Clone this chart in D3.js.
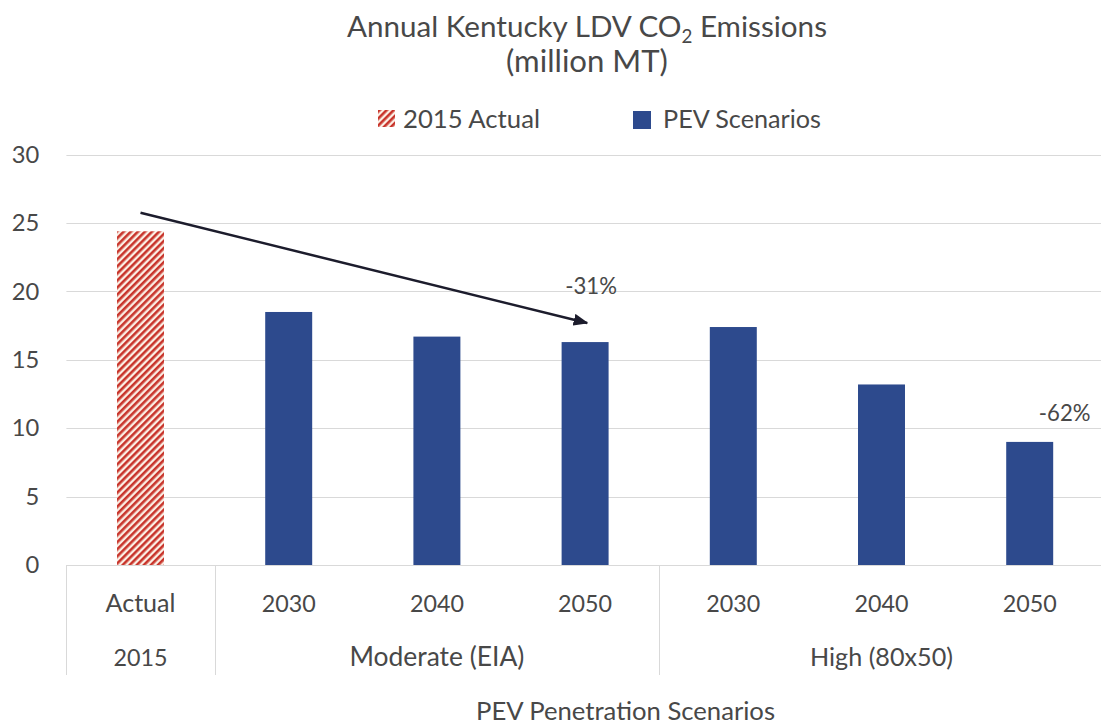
<!DOCTYPE html>
<html>
<head>
<meta charset="utf-8">
<script src="https://cdn.jsdelivr.net/npm/d3@7/dist/d3.min.js"></script>
<style>
  html, body { margin: 0; padding: 0; background: #ffffff; }
  svg { display: block; }
  text { font-family: Lato, "Open Sans", sans-serif; fill: #484848; font-weight: 400; }
</style>
</head>
<body>
<svg id="chart" width="1101" height="726"></svg>
<script>
// ---- data ----
const categoryLabels = ["Actual", "2030", "2040", "2050", "2030", "2040", "2050"];
const seriesOf = ["actual", "pev", "pev", "pev", "pev", "pev", "pev"];
const values = [24.4, 18.5, 16.7, 16.3, 17.4, 13.2, 9.0];
const groupLabels = ["2015", "Moderate (EIA)", "High (80x50)"];
const groupStart = [0, 1, 4];
const groupEnd = [1, 4, 7];
const yTicks = [0, 5, 10, 15, 20, 25, 30];
const legendLabels = ["2015 Actual", "PEV Scenarios"];
const annotations = [
  { text: "-31%", cat: 3, value: 19.8, dx: 6 },
  { text: "-62%", cat: 6, value: 10.5, dx: 35 }
];
const arrowFrom = { cat: 0, value: 25.75 };
const arrowTo = { cat: 3, value: 17.7 };

// ---- layout ----
const W = 1101, H = 726;
const plotLeft = 66.4, plotRight = 1103.8, plotTop = 154.7, plotBottom = 565;
const svg = d3.select("#chart");

const x = d3.scaleBand()
  .domain(d3.range(values.length))
  .range([plotLeft, plotRight])
  .paddingInner(0.683)
  .paddingOuter(0.3415);
const y = d3.scaleLinear().domain([0, 30]).range([plotBottom, plotTop]);
const step = x.step();
const cx = i => x(i) + x.bandwidth() / 2;

const colors = { pev: "#2d4a8d", red: "#c8342b", cream: "#fbeee4" };

// hatch pattern
const defs = svg.append("defs");
const pat = defs.append("pattern")
  .attr("id", "hatch")
  .attr("patternUnits", "userSpaceOnUse")
  .attr("width", 5).attr("height", 5)
  .attr("patternTransform", "rotate(45)");
pat.append("rect").attr("width", 5).attr("height", 5).attr("fill", colors.cream);
pat.append("rect").attr("width", 2.6).attr("height", 5).attr("fill", colors.red);

defs.append("marker")
  .attr("id", "arrowhead")
  .attr("viewBox", "0 0 10 10")
  .attr("refX", 9).attr("refY", 5)
  .attr("markerWidth", 15).attr("markerHeight", 12)
  .attr("markerUnits", "userSpaceOnUse")
  .attr("orient", "auto")
  .attr("preserveAspectRatio", "none")
  .append("path").attr("d", "M0,0 L10,5 L0,10 Z").attr("fill", "#1c1c2c");

// font fitting helper
function fitTo(sel, targetW) {
  sel.each(function (d, i) {
    const t = d3.select(this);
    const tw = typeof targetW === "function" ? targetW(d, i) : targetW;
    const fs = parseFloat(t.style("font-size"));
    const w = this.getComputedTextLength();
    if (w > 0) t.style("font-size", (fs * tw / w) + "px");
  });
}
function measure(str, fs) {
  const t = svg.append("text").style("font-size", fs + "px").text(str);
  const w = t.node().getComputedTextLength();
  t.remove();
  return w;
}
const tickFs = 100 * 54 / measure("2030", 100);
const catWidths = [70, 54, 54, 54, 54, 54, 54];
const groupWidths = [54, 175, 143];

// gridlines
const grid = svg.append("g");
grid.selectAll("line").data(yTicks).join("line")
  .attr("x1", plotLeft).attr("x2", W)
  .attr("y1", d => Math.round(y(d)) + 0.5).attr("y2", d => Math.round(y(d)) + 0.5)
  .attr("stroke", "#d9d9d9").attr("stroke-width", 1);

// y tick labels via axis
const yAxis = svg.append("g")
  .attr("transform", `translate(${plotLeft},0)`)
  .call(d3.axisLeft(y).tickValues(yTicks).tickSize(0).tickPadding(27));
yAxis.select(".domain").remove();
yAxis.selectAll("text")
  .style("font-family", "Lato, 'Open Sans', sans-serif")
  .style("font-weight", 400)
  .style("font-size", (tickFs * 1.02) + "px")
  .attr("fill", "#484848");

// bars
svg.append("g").selectAll("rect").data(values).join("rect")
  .attr("x", (d, i) => x(i))
  .attr("width", x.bandwidth())
  .attr("y", d => y(d))
  .attr("height", d => y(0) - y(d))
  .attr("fill", (d, i) => seriesOf[i] === "actual" ? "url(#hatch)" : colors.pev);

// category separators
const sepX = [plotLeft].concat(groupEnd.map(e => plotLeft + e * step));
svg.append("g").selectAll("line").data(sepX).join("line")
  .attr("x1", d => Math.round(d) + 0.5).attr("x2", d => Math.round(d) + 0.5)
  .attr("y1", plotBottom).attr("y2", 675)
  .attr("stroke", "#d9d9d9").attr("stroke-width", 1);

// category labels
svg.append("g").selectAll("text").data(categoryLabels).join("text")
  .attr("x", (d, i) => cx(i)).attr("y", 611.5)
  .attr("text-anchor", "middle")
  .style("font-size", tickFs + "px")
  .text(d => d)
  .call(fitTo, (d, i) => catWidths[i]);

// group labels
svg.append("g").selectAll("text").data(groupLabels).join("text")
  .attr("x", (d, i) => plotLeft + (groupStart[i] + groupEnd[i]) / 2 * step)
  .attr("y", 666)
  .attr("text-anchor", "middle")
  .style("font-size", tickFs + "px")
  .text(d => d)
  .call(fitTo, (d, i) => groupWidths[i]);

// axis title
svg.append("text")
  .attr("x", 625.5).attr("y", 720)
  .attr("text-anchor", "middle")
  .style("font-size", tickFs + "px")
  .text("PEV Penetration Scenarios")
  .call(fitTo, 299);

// title
const title = svg.append("text").attr("x", 587).attr("y", 37).attr("text-anchor", "middle")
  .style("font-size", "30px");
title.append("tspan").text("Annual Kentucky LDV CO");
title.append("tspan").text("2").style("font-size", "19px").attr("dy", 6);
title.append("tspan").text(" Emissions").attr("dy", -6);
{
  const w = title.node().getComputedTextLength();
  const k = 480 / w;
  title.style("font-size", (30 * k) + "px");
  title.selectAll("tspan").filter((d, i) => i === 1).style("font-size", (19 * k) + "px");
}
svg.append("text").attr("x", 587).attr("y", 72).attr("text-anchor", "middle")
  .style("font-size", "30px").text("(million MT)").call(fitTo, 162);

// legend
const legend = svg.append("g");
legend.append("rect").attr("x", 378).attr("y", 110).attr("width", 17).attr("height", 17)
  .attr("fill", "url(#hatch)");
legend.append("text").attr("x", 403).attr("y", 128).style("font-size", tickFs + "px")
  .text(legendLabels[0]).call(fitTo, 137);
legend.append("rect").attr("x", 633).attr("y", 111).attr("width", 18).attr("height", 18)
  .attr("fill", colors.pev);
legend.append("text").attr("x", 663).attr("y", 128).style("font-size", tickFs + "px")
  .text(legendLabels[1]).call(fitTo, 158);

// arrow
svg.append("line")
  .attr("x1", cx(arrowFrom.cat)).attr("y1", y(arrowFrom.value))
  .attr("x2", cx(arrowTo.cat) + 2).attr("y2", y(arrowTo.value))
  .attr("stroke", "#1c1c2c").attr("stroke-width", 2.5)
  .attr("marker-end", "url(#arrowhead)");

// annotations
svg.append("g").selectAll("text").data(annotations).join("text")
  .attr("x", d => cx(d.cat) + d.dx).attr("y", d => y(d.value))
  .attr("text-anchor", "middle")
  .style("font-size", tickFs + "px")
  .text(d => d.text)
  .call(fitTo, 51.7);
</script>
</body>
</html>
